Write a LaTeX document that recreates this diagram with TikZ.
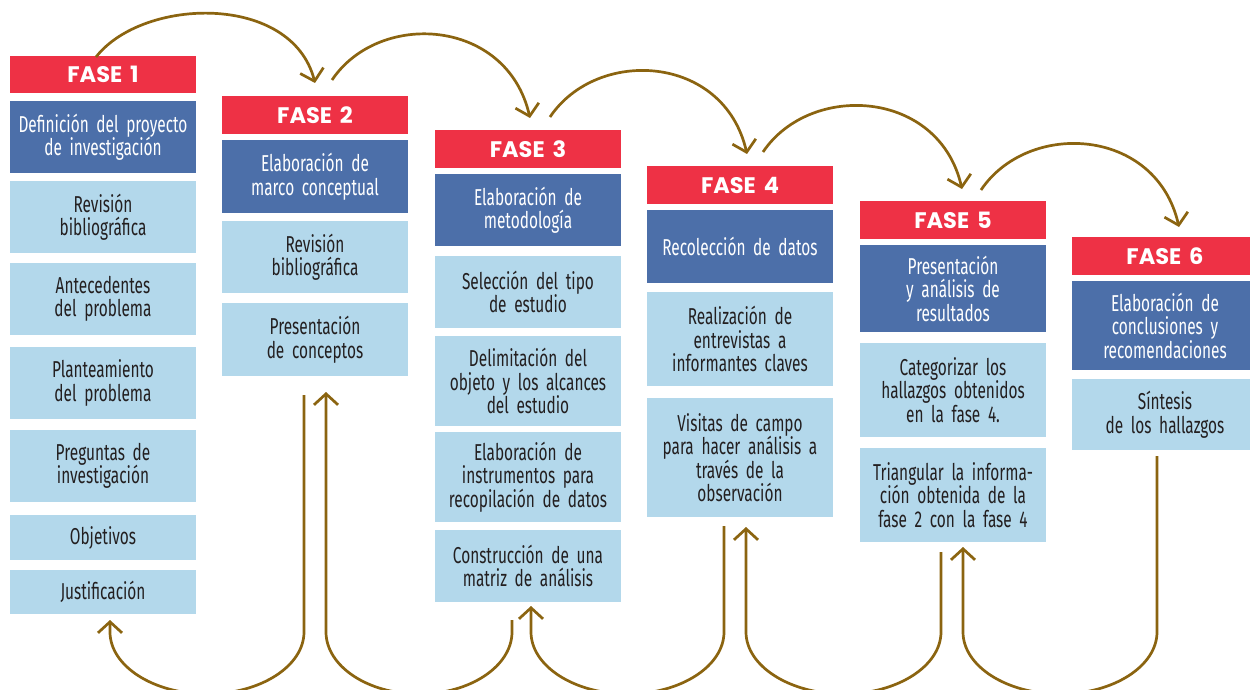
\documentclass[tikz,border=0pt]{standalone}
\usepackage{fontspec}
\usetikzlibrary{arrows.meta}
\newfontfamily\condfont[FakeStretch=0.67]{Fira Sans}
\newfontfamily\fasefont{Poppins}
\newcommand\boxfont{\condfont\fontsize{23}{23.5}\selectfont\spaceskip=3.2pt\relax}
\definecolor{fasered}{HTML}{EE3145}
\definecolor{darkbox}{HTML}{4C6FA9}
\definecolor{lightbox}{HTML}{B3D8EB}
\definecolor{arrowc}{HTML}{8B6410}
\definecolor{textc}{HTML}{231F20}
\begin{document}
\begin{tikzpicture}[x=1pt,y=-1pt,
  hdr/.style={fill=fasered, text=white, font=\fasefont\bfseries\fontsize{22.5}{22.5}\selectfont,
    minimum width=186pt, anchor=north west, inner sep=0pt, outer sep=0pt},
  dbox/.style={fill=darkbox, text=white, font=\boxfont,
    minimum width=186pt, text width=182pt, align=center, anchor=north west, inner sep=0pt, outer sep=0pt},
  lbox/.style={fill=lightbox, text=textc, font=\boxfont,
    minimum width=186pt, text width=182pt, align=center, anchor=north west, inner sep=0pt, outer sep=0pt},
  arr/.style={draw=arrowc, line width=2.7pt, -{Straight Barb[length=11pt,width=24pt]}},
]
\useasboundingbox (0,0) rectangle (1250,690);
\clip (0,0) rectangle (1250,690);
\fill[white] (0,0) rectangle (1250,690);

% Column 1
\node[hdr, minimum height=37pt] (h1) at (10,56) {FASE\hspace{0.35em}1};
\node[dbox, minimum height=72pt] (d1) at (10,101) {Definición del proyecto\\de investigación};
\node[lbox, minimum height=72pt] (l1a) at (10,181) {Revisión\\bibliográfica};
\node[lbox, minimum height=72pt] (l1b) at (10,263) {Antecedentes\\del problema};
\node[lbox, minimum height=72pt] (l1c) at (10,347) {Planteamiento\\del problema};
\node[lbox, minimum height=72pt] (l1d) at (10,430) {Preguntas de\\investigación};
\node[lbox, minimum height=45pt] (l1e) at (10,515) {Objetivos};
\node[lbox, minimum height=44pt] (l1f) at (10,570) {Justificación};

% Column 2
\node[hdr, minimum height=38pt] (h2) at (222,96) {FASE\hspace{0.35em}2};
\node[dbox, minimum height=73pt] (d2) at (222,140) {Elaboración de\\marco conceptual};
\node[lbox, minimum height=72pt] (l2a) at (222,221) {Revisión\\bibliográfica};
\node[lbox, minimum height=73pt] (l2b) at (222,303) {Presentación\\de conceptos};

% Column 3
\node[hdr, minimum height=38pt] (h3) at (435,130) {FASE\hspace{0.35em}3};
\node[dbox, minimum height=72pt] (d3) at (435,174) {Elaboración de\\metodología};
\node[lbox, minimum height=72pt] (l3a) at (435,256) {Selección del tipo\\de estudio};
\node[lbox, minimum height=90pt] (l3b) at (435,336) {Delimitación del\\objeto y los alcances\\del estudio};
\node[lbox, minimum height=90pt] (l3c) at (435,432) {Elaboración de\\instrumentos para\\recopilación de datos};
\node[lbox, minimum height=72pt] (l3d) at (435,530) {Construcción de una\\matriz de análisis};

% Column 4
\node[hdr, minimum height=38pt] (h4) at (647,166) {FASE\hspace{0.35em}4};
\node[dbox, minimum height=73pt] (d4) at (647,210) {Recolección de datos};
\node[lbox, minimum height=94pt] (l4a) at (647,292) {Realización de\\entrevistas a\\informantes claves};
\node[lbox, minimum height=119pt] (l4b) at (647,398) {Visitas de campo\\para hacer análisis a\\través de la\\observación};

% Column 5
\node[hdr, minimum height=38pt] (h5) at (860,201) {FASE\hspace{0.35em}5};
\node[dbox, minimum height=87pt] (d5) at (860,245) {Presentación\\y análisis de\\resultados};
\node[lbox, minimum height=94pt] (l5a) at (860,343) {Categorizar los\\hallazgos obtenidos\\en la fase 4.};
\node[lbox, minimum height=94pt] (l5b) at (860,448) {Triangular la informa-\\ción obtenida de la\\fase 2 con la fase 4};

% Column 6
\node[hdr, minimum height=38pt] (h6) at (1072,237) {FASE\hspace{0.35em}6};
\node[dbox, minimum height=89pt] (d6) at (1072,281) {Elaboración de\\conclusiones y\\recomendaciones};
\node[lbox, minimum height=71pt] (l6a) at (1072,379) {Síntesis\\de los hallazgos};

% Top arrow end points
\coordinate (t1s) at (96,57);   \coordinate (t1e) at (315,83);
\coordinate (t2s) at (332,80);  \coordinate (t2e) at (530,118);
\coordinate (t3s) at (550,117); \coordinate (t3e) at (747,154);
\coordinate (t4s) at (763,152); \coordinate (t4e) at (962,189);
\coordinate (t5s) at (981,190); \coordinate (t5e) at (1179,227);

\draw[arr] (t1s) .. controls (143,-3) and (292,-7) .. (t1e);
\draw[arr] (t2s) .. controls (379,10) and (507,18) .. (t2e);
\draw[arr] (t3s) .. controls (597,47) and (724,54) .. (t3e);
\draw[arr] (t4s) .. controls (810,82) and (939,89) .. (t4e);
\draw[arr] (t5s) .. controls (1028,120) and (1156,127) .. (t5e);

% Bottom arrow end points
\coordinate (bAs) at (304,395);  \coordinate (bAe) at (110,620);
\coordinate (bBs) at (512,620);  \coordinate (bBe) at (326,392);
\coordinate (bCs) at (724,526);  \coordinate (bCe) at (531,606);
\coordinate (bDs) at (941,552);  \coordinate (bDe) at (746,527);
\coordinate (bEs) at (1157,456); \coordinate (bEe) at (963,547);

\draw[arr] (bAs) -- (304,632) .. controls (304,666) and (260.6,694) .. (207,694)
  .. controls (153.4,694) and (110,666) .. (110,632) -- (bAe);
\draw[arr] (bBs) -- (512,632) .. controls (512,666) and (470.4,694) .. (419,694)
  .. controls (367.6,694) and (326,666) .. (326,632) -- (bBe);
\draw[arr] (bCs) -- (724,632) .. controls (724,666) and (680.8,694) .. (627.5,694)
  .. controls (574.2,694) and (531,666) .. (531,632) -- (bCe);
\draw[arr] (bDs) -- (941,632) .. controls (941,666) and (897.3,694) .. (843.5,694)
  .. controls (789.7,694) and (746,666) .. (746,632) -- (bDe);
\draw[arr] (bEs) -- (1157,632) .. controls (1157,666) and (1113.6,694) .. (1060,694)
  .. controls (1006.4,694) and (963,666) .. (963,632) -- (bEe);
\end{tikzpicture}
\end{document}
